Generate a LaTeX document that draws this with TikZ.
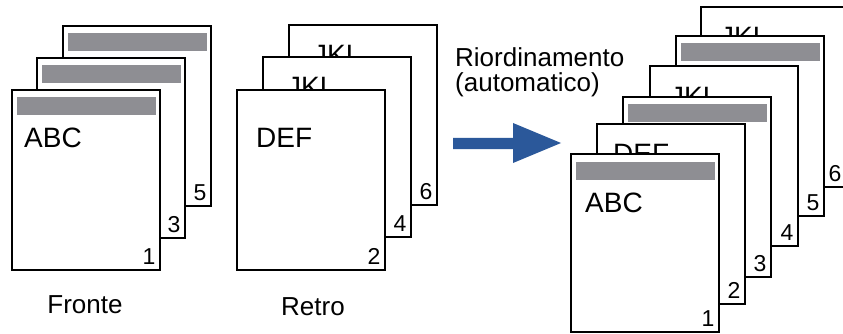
\documentclass[tikz,border=0pt]{standalone}
\usepackage{fontspec}
\setmainfont{Liberation Sans}
\definecolor{bargray}{RGB}{142,142,147}
\definecolor{arrowblue}{RGB}{43,88,154}
\tikzset{
  pg/.style={draw=black, fill=white, line width=1.9pt, anchor=north west, inner sep=0pt, outer sep=0pt, minimum width=148pt, minimum height=180pt},
  bar/.style={fill=bargray, anchor=north west, inner sep=0pt, outer sep=0pt, minimum width=139pt, minimum height=18pt},
  big/.style={anchor=base west, inner sep=0pt, font=\fontsize{28}{30}\selectfont},
  num/.style={anchor=base east, inner sep=0pt, font=\fontsize{23}{25}\selectfont},
  lbl/.style={inner sep=0pt, font=\fontsize{26}{28}\selectfont},
}
\begin{document}
\begin{tikzpicture}[x=1pt, y=-1pt]
\useasboundingbox (0,0) rectangle (843,334);
\clip (0,0) rectangle (843,334);
% ---------- Fronte stack ----------
\node[pg] (f5) at (63,26) {};
\node[bar] (f5b) at ([xshift=5pt,yshift=-7pt]f5.north west) {};
\node[num] (f5n) at ([xshift=-4.5pt,yshift=6pt]f5.south east) {5};
\node[pg] (f3) at (37,58) {};
\node[bar] (f3b) at ([xshift=5pt,yshift=-7pt]f3.north west) {};
\node[num] (f3n) at ([xshift=-4.5pt,yshift=6pt]f3.south east) {3};
\node[pg] (f1) at (12,90) {};
\node[bar] (f1b) at ([xshift=5pt,yshift=-7pt]f1.north west) {};
\node[big] (f1t) at ([xshift=12pt,yshift=-57pt]f1.north west) {ABC};
\node[num] (f1n) at ([xshift=-4.5pt,yshift=6pt]f1.south east) {1};
\node[lbl, anchor=base] (fl) at (85,313) {Fronte};
% ---------- Retro stack ----------
\node[pg] (r6) at (289,25) {};
\node[big] (r6t) at ([xshift=24pt,yshift=-40pt]r6.north west) {JKL};
\node[num] (r6n) at ([xshift=-4.5pt,yshift=6pt]r6.south east) {6};
\node[pg] (r4) at (263,57) {};
\node[big] (r4t) at ([xshift=24pt,yshift=-40pt]r4.north west) {JKL};
\node[num] (r4n) at ([xshift=-4.5pt,yshift=6pt]r4.south east) {4};
\node[pg] (r2) at (237,90) {};
\node[big] (r2t) at ([xshift=19pt,yshift=-57pt]r2.north west) {DEF};
\node[num] (r2n) at ([xshift=-4.5pt,yshift=6pt]r2.south east) {2};
\node[lbl, anchor=base] (rl) at (313,315) {Retro};
% ---------- arrow and caption ----------
\node[lbl, anchor=base west, align=left] (cap1) at (455,67) {Riordinamento};
\node[lbl, anchor=base west, align=left] (cap2) at (455,92) {(automatico)};
\fill[arrowblue] (453,138) -- (513,138) -- (513,123) -- (561,143) -- (513,163) -- (513,149) -- (453,149) -- cycle;
% ---------- output stack ----------
\node[pg, minimum width=145pt] (o6) at (701,7) {};
\node[big] (o6t) at ([xshift=19pt,yshift=-40pt]o6.north west) {JKL};
\node[num] (o6n) at ([xshift=-4.5pt,yshift=6pt]o6.south east) {6};
\node[pg] (o5) at (676,36) {};
\node[bar] (o5b) at ([xshift=5pt,yshift=-7pt]o5.north west) {};
\node[num] (o5n) at ([xshift=-4.5pt,yshift=6pt]o5.south east) {5};
\node[pg] (o4) at (650,66) {};
\node[big] (o4t) at ([xshift=20pt,yshift=-41pt]o4.north west) {JKL};
\node[num] (o4n) at ([xshift=-4.5pt,yshift=6pt]o4.south east) {4};
\node[pg] (o3) at (623,97) {};
\node[bar] (o3b) at ([xshift=5pt,yshift=-7pt]o3.north west) {};
\node[num] (o3n) at ([xshift=-4.5pt,yshift=6pt]o3.south east) {3};
\node[pg] (o2) at (597,124) {};
\node[big] (o2t) at ([xshift=16pt,yshift=-39pt]o2.north west) {DEF};
\node[num] (o2n) at ([xshift=-4.5pt,yshift=6pt]o2.south east) {2};
\node[pg, minimum height=178pt] (o1) at (571,154) {};
\node[bar] (o1b) at ([xshift=5pt,yshift=-8pt]o1.north west) {};
\node[big] (o1t) at ([xshift=14pt,yshift=-58pt]o1.north west) {ABC};
\node[num] (o1n) at ([xshift=-4.5pt,yshift=6pt]o1.south east) {1};
\end{tikzpicture}
\end{document}
